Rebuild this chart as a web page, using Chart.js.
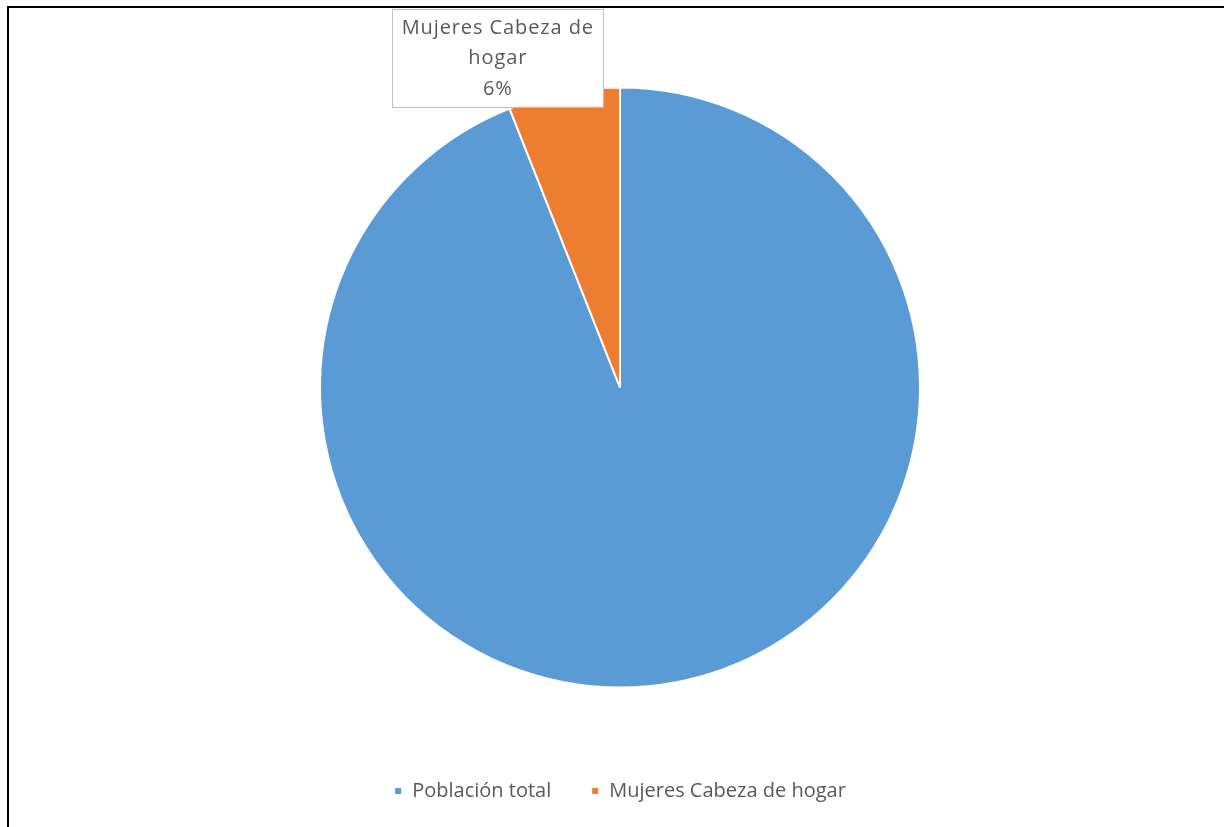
<!DOCTYPE html>
<html>
<head>
<meta charset="utf-8">
<script src="https://cdn.jsdelivr.net/npm/chart.js@4.4.0/dist/chart.umd.min.js"></script>
<style>
    html, body { margin: 0; padding: 0; background: #fff; }
    #wrap { position: relative; width: 1224px; height: 827px; }
    #frame { position: absolute; left: 7px; top: 6px; right: 0; bottom: 0; border-left: 2px solid #000; border-top: 2px solid #000; }
    #chart { position: absolute; left: 0; top: 0; }
</style>
</head>
<body>
<div id="wrap">
    <div id="frame"></div>
    <canvas id="chart" width="1224" height="827"></canvas>
</div>
<script>
// Chart data
const categories = ['Población total', 'Mujeres Cabeza de hogar'];
const shares = [94, 6];
const sliceColors = ['#5B9BD5', '#ED7D31'];
const labelLines = ['Mujeres Cabeza de', 'hogar', '6%'];

const FONT = '"Open Sans", Lato, sans-serif';
const TEXT_COLOR = '#595959';

// Draws the callout box for the small slice
const calloutPlugin = {
    id: 'callout',
    afterDatasetsDraw(chart) {
        const arc = chart.getDatasetMeta(0).data[1];
        if (!arc) return;
        const props = arc.getProps(['x', 'y', 'startAngle', 'endAngle', 'outerRadius'], true);
        const mid = (props.startAngle + props.endAngle) / 2;
        const ox = props.x + Math.cos(mid) * props.outerRadius;
        const oy = props.y + Math.sin(mid) * props.outerRadius;

        const w = 211, h = 98;
        const cx = ox - 66;
        const bottom = oy + 14;
        const top = bottom - h;
        const ctx = chart.ctx;
        ctx.save();
        ctx.fillStyle = '#fff';
        ctx.fillRect(cx - w / 2, top, w, h);
        ctx.strokeStyle = '#BFBFBF';
        ctx.lineWidth = 1;
        ctx.strokeRect(Math.round(cx - w / 2) + 0.5, Math.round(top) + 0.5, w, h);
        ctx.fillStyle = TEXT_COLOR;
        ctx.font = '20px ' + FONT;
        ctx.letterSpacing = '0.9px';
        ctx.textAlign = 'center';
        ctx.textBaseline = 'middle';
        labelLines.forEach((line, i) => {
            ctx.fillText(line, cx, top + 19 + i * 30.5);
        });
        ctx.restore();
    }
};

const ctx = document.getElementById('chart').getContext('2d');
new Chart(ctx, {
    type: 'pie',
    data: {
        labels: categories,
        datasets: [{
            data: shares,
            backgroundColor: sliceColors,
            borderColor: '#ffffff',
            borderWidth: 2,
            radius: 300
        }]
    },
    options: {
        responsive: false,
        animation: false,
        layout: {
            padding: { left: 16, top: 34, bottom: 16 }
        },
        plugins: {
            legend: {
                position: 'bottom',
                labels: {
                    boxWidth: 8,
                    boxHeight: 8,
                    padding: 40,
                    color: TEXT_COLOR,
                    font: { family: FONT, size: 20 }
                }
            },
            tooltip: { enabled: false },
            title: { display: false }
        }
    },
    plugins: [calloutPlugin]
});
</script>
</body>
</html>
